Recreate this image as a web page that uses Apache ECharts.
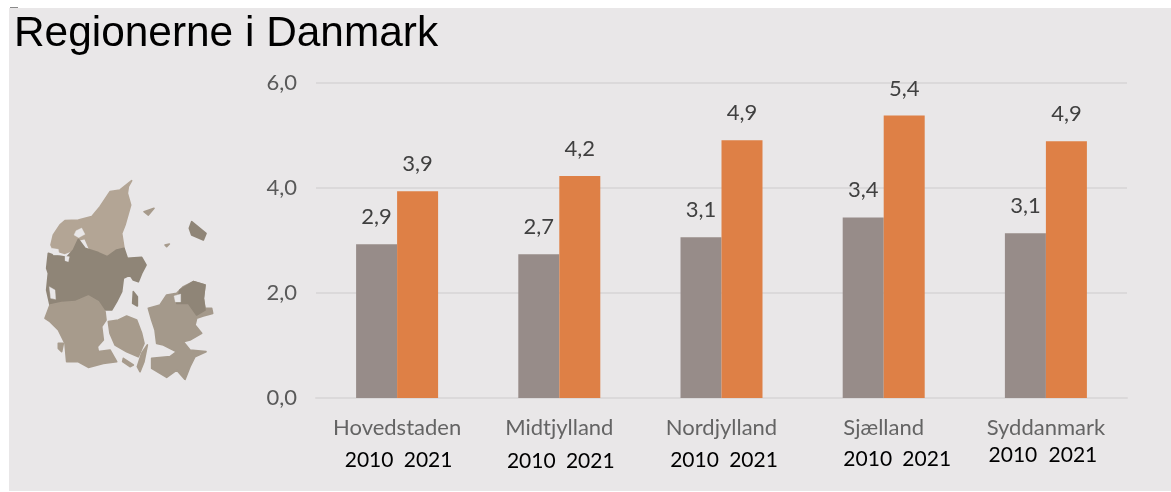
<!DOCTYPE html>
<html><head><meta charset="utf-8">
<style>html,body{margin:0;padding:0;background:#fff}#c{width:1171px;height:492px}</style>
<script src="https://cdn.jsdelivr.net/npm/echarts@6/dist/echarts.min.js"></script>
</head><body><div id="c"></div>
<script>
const categories = ['Hovedstaden','Midtjylland','Nordjylland','Sjælland','Syddanmark'];
const values2010 = [2.93,2.74,3.06,3.44,3.14];
const values2021 = [3.94,4.23,4.91,5.38,4.89];
const years = ['2010','2021'];
const yearOffsetX = [[-28,31],[-28,31],[-27,32],[-16,43],[-33,27]];
const yearCenterY = [460,461,460,459,455];
const comma = v => v.toFixed(1).replace('.',',');
const FONT = 'Lato';

const bg = '#e9e7e8';
const poly = (points, fill) => ({type:'polygon', shape:{points}, style:{fill, stroke:fill, lineWidth:fill===bg?1:5, lineJoin:'round'}});
const mapShapes = [
  poly([[335,32],[325,50],[322,70],[332,105],[325,130],[315,165],[305,190],[312,235],[290,240],[262,260],[235,248],[210,240],[195,205],[175,210],[160,240],[135,250],[100,240],[93,225],[100,195],[120,165],[135,152],[175,150],[215,140],[240,110],[270,65],[300,60]],'#b3a595'),
  poly([[85,250],[100,255],[140,262],[160,240],[175,208],[195,235],[235,248],[262,260],[290,240],[312,235],[322,265],[365,262],[378,285],[365,310],[355,335],[340,330],[330,315],[310,325],[305,365],[290,395],[275,420],[255,420],[235,395],[205,378],[165,395],[125,398],[90,405],[80,360],[85,310],[80,295]],'#8f8577'),
  poly([[90,405],[125,398],[165,395],[205,378],[235,395],[255,425],[258,450],[245,470],[250,510],[232,530],[235,545],[270,540],[290,575],[250,580],[205,592],[175,575],[140,575],[135,520],[115,480],[90,455],[75,445]],'#a79b8c'),
  poly([[265,455],[295,450],[320,438],[350,450],[365,490],[372,520],[355,560],[320,545],[285,525],[270,490]],'#a79b8c'),
  poly([[385,415],[420,405],[440,375],[470,370],[490,350],[520,335],[555,345],[550,385],[555,415],[575,415],[578,430],[550,438],[530,445],[525,465],[545,490],[510,510],[490,515],[510,540],[558,545],[525,560],[510,590],[495,628],[470,600],[440,622],[395,595],[395,565],[450,560],[470,545],[430,525],[410,520],[405,480],[395,450]],'#a4998b'),
  poly([[470,400],[480,360],[520,335],[555,345],[550,385],[555,420],[530,435],[505,400]],'#8f8577'),
  poly([[515,155],[558,190],[550,210],[515,195],[508,175]],'#8f8577'),
  poly([[372,125],[402,115],[385,135]],'#a79b8c'),
  poly([[435,225],[448,222],[440,230]],'#a79b8c'),
  poly([[382,525],[372,575],[360,605],[352,590],[365,550]],'#a79b8c'),
  poly([[310,565],[340,585],[330,590],[308,575]],'#a79b8c'),
  poly([[115,520],[130,520],[125,545],[115,535]],'#a79b8c'),
  poly([[340,365],[352,380],[352,408],[338,400]],'#8f8577'),
  poly([[168,182],[185,174],[195,193],[176,203],[162,195]],bg),
  poly([[95,235],[115,238],[118,255],[100,255]],bg),
  poly([[135,258],[148,260],[145,275],[135,272]],bg),
  poly([[88,350],[105,360],[107,388],[92,385]],bg),
  poly([[462,378],[482,372],[482,396],[466,396]],bg)
];

const chart = echarts.init(document.getElementById('c'), null, {renderer:'canvas'});
const option = {
  animation:false,
  backgroundColor:'#ffffff',
  textStyle:{fontFamily:FONT},
  grid:{left:316,right:44,top:83,bottom:94,containLabel:false},
  xAxis:{type:'category',data:categories,
    axisLine:{lineStyle:{color:'#dbd9da',width:2}},axisTick:{show:false},
    axisLabel:{color:'#646464',fontSize:22,fontFamily:FONT,margin:19,interval:0}},
  yAxis:{type:'value',min:0,max:6,interval:2,
    axisLine:{show:false},axisTick:{show:false},
    axisLabel:{color:'#595959',fontSize:22,fontFamily:FONT,margin:19,padding:[3,0,0,0],formatter:v=>comma(v)},
    splitLine:{lineStyle:{color:'#dbd9da',width:2}}},
  series:[
    {name:'2010',type:'bar',data:values2010,barWidth:41,barGap:0,itemStyle:{color:'#978c89'},
     label:{show:true,position:'top',distance:16,color:'#404040',fontSize:22,fontFamily:FONT,formatter:p=>comma(p.value)}},
    {name:'2021',type:'bar',data:values2021,barWidth:41,barGap:0,itemStyle:{color:'#de8046'},
     label:{show:true,position:'top',distance:16,color:'#404040',fontSize:22,fontFamily:FONT,formatter:p=>comma(p.value)}}
  ]
};
chart.setOption(option);

const yearTexts = [];
categories.forEach((c,i)=>{
  const cx = chart.convertToPixel({xAxisIndex:0}, c);
  years.forEach((y,j)=>yearTexts.push({type:'text',z:5,x:cx+yearOffsetX[i][j],y:yearCenterY[i],
    style:{text:y,fill:'#000',font:'21px '+FONT,textAlign:'center',textVerticalAlign:'middle'}}));
});
chart.setOption({graphic:[
  {type:'rect',z:-10,silent:true,shape:{x:9,y:8,width:1162,height:483},style:{fill:bg}},
  {type:'rect',z:-9,silent:true,shape:{x:10,y:7,width:8,height:1},style:{fill:'#8a8a8a'}},
  {type:'text',z:5,x:14,y:34,style:{text:'Regionerne i Danmark',fill:'#000',font:'42.4px "Liberation Sans"',textVerticalAlign:'middle'}},
  {type:'group',x:20,y:170,scaleX:1/3,scaleY:1/3,silent:true,children:mapShapes},
  ...yearTexts
]});
</script></body></html>
